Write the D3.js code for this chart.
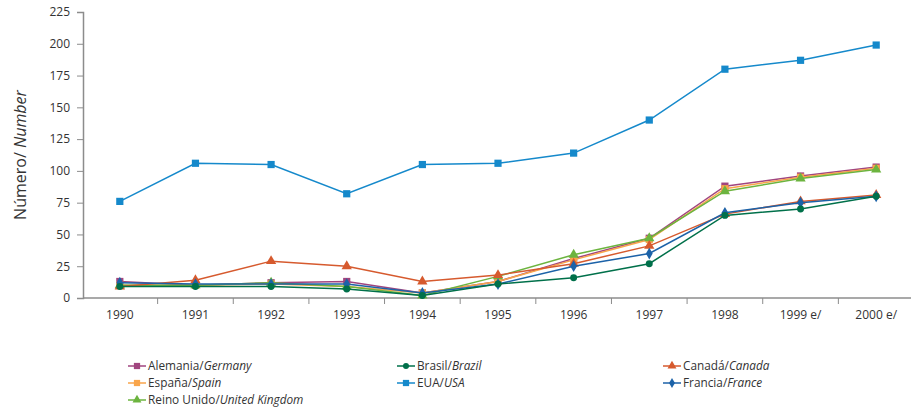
<!DOCTYPE html>
<html><head><meta charset="utf-8">
<script src="https://cdn.jsdelivr.net/npm/d3@7/dist/d3.min.js"></script>
<style>body{margin:0;background:#fff;} text{font-family:"Open Sans","Noto Sans",sans-serif;}</style>
</head><body><svg id="c" width="913" height="407"></svg>
<script>
const years = ["1990","1991","1992","1993","1994","1995","1996","1997","1998","1999 e/","2000 e/"];
const yTicks = [0,25,50,75,100,125,150,175,200,225];
const alemania = [13,10,12,13,4,13,31,47,88,96,103];
const brasil = [9,9,9,7,2,11,16,27,65,70,80];
const canada = [9,14,29,25,13,18,27,41,66,76,81];
const espana = [10,10,11,9,4,13,30,46,86,95,102];
const eua = [76,106,105,82,105,106,114,140,180,187,199];
const francia = [12,11,11,11,4,11,25,35,67,75,80];
const reinoUnido = [10,10,12,9,2,17,34,47,84,94,101];

const series = [
  {es:"Alemania/", en:"Germany", v:alemania, c:"#a1457f", m:"square"},
  {es:"Brasil/", en:"Brazil", v:brasil, c:"#00704a", m:"circle"},
  {es:"Canadá/", en:"Canada", v:canada, c:"#d65a2e", m:"triangle"},
  {es:"España/", en:"Spain", v:espana, c:"#f9a54b", m:"square"},
  {es:"EUA/", en:"USA", v:eua, c:"#1589cb", m:"square"},
  {es:"Francia/", en:"France", v:francia, c:"#1c62a8", m:"diamond"},
  {es:"Reino Unido/", en:"United Kingdom", v:reinoUnido, c:"#6cb43f", m:"triangle"}
];

const svg = d3.select("#c");
const x = d3.scaleBand().domain(years).range([82, 914]);
const y = d3.scaleLinear().domain([0,225]).range([298, 12]);

const ax = svg.append("g").attr("transform","translate(0,298)")
  .call(d3.axisBottom(x).tickSize(0).tickPadding(12));
ax.select(".domain").remove();
svg.append("line").attr("x1",83).attr("x2",911).attr("y1",298).attr("y2",298)
  .attr("stroke","#8c8c8c").attr("stroke-width",1.5);
ax.selectAll("text").attr("fill","#333").attr("font-size",12);
// ticks between bands
svg.append("g").selectAll("line").data(years.slice(1).map((d,i)=>82+x.step()*(i+1)))
  .join("line").attr("x1",d=>d).attr("x2",d=>d).attr("y1",298).attr("y2",304)
  .attr("stroke","#8c8c8c");

const ay = svg.append("g").attr("transform","translate(83,0)")
  .call(d3.axisLeft(y).tickValues(yTicks).tickSize(6).tickPadding(7));
ay.select(".domain").attr("stroke","#8c8c8c").attr("stroke-width",1.5);
ay.selectAll("line").attr("stroke","#8c8c8c");
ay.selectAll("text").attr("fill","#333").attr("font-size",12);

const yt = svg.append("text").attr("transform","translate(26,155) rotate(-90)")
  .attr("text-anchor","middle").attr("font-size",16).attr("fill","#333");
yt.append("tspan").text("Número/ ");
yt.append("tspan").attr("font-style","italic").text("Number");

const sym = {square:d3.symbolSquare, circle:d3.symbolCircle, triangle:d3.symbolTriangle, diamond:d3.symbolDiamond};
const sz = {square:52, circle:38, triangle:46, diamond:40};
const cx = d => x(d) + x.bandwidth()/2;
const line = d3.line().x((d,i)=>cx(years[i])).y(d=>y(d));

const order = [4,0,3,6,2,5,1];
order.forEach(k=>{
  const s = series[k];
  const g = svg.append("g");
  g.append("path").attr("d", line(s.v)).attr("fill","none").attr("stroke",s.c).attr("stroke-width",1.5);
  g.selectAll("path.m").data(s.v).join("path").attr("class","m")
    .attr("transform",(d,i)=>`translate(${cx(years[i])},${y(d)})`)
    .attr("d", d3.symbol().type(sym[s.m]).size(sz[s.m])).attr("fill",s.c);
});

// legend
const lx = [128, 397, 663], ly = [366, 383, 400];
series.forEach((s,i)=>{
  const gx = lx[i%3], gy = ly[Math.floor(i/3)];
  const g = svg.append("g").attr("transform",`translate(${gx},${gy})`);
  g.append("line").attr("x1",0).attr("x2",18).attr("y1",0).attr("y2",0).attr("stroke",s.c).attr("stroke-width",1.5);
  g.append("path").attr("transform","translate(9,0)").attr("d",d3.symbol().type(sym[s.m]).size(sz[s.m]*0.75)).attr("fill",s.c);
  const t = g.append("text").attr("x",20).attr("y",4).attr("font-size",11.8).attr("fill","#333");
  t.append("tspan").text(s.es);
  t.append("tspan").attr("font-style","italic").text(s.en);
});
</script></body></html>
